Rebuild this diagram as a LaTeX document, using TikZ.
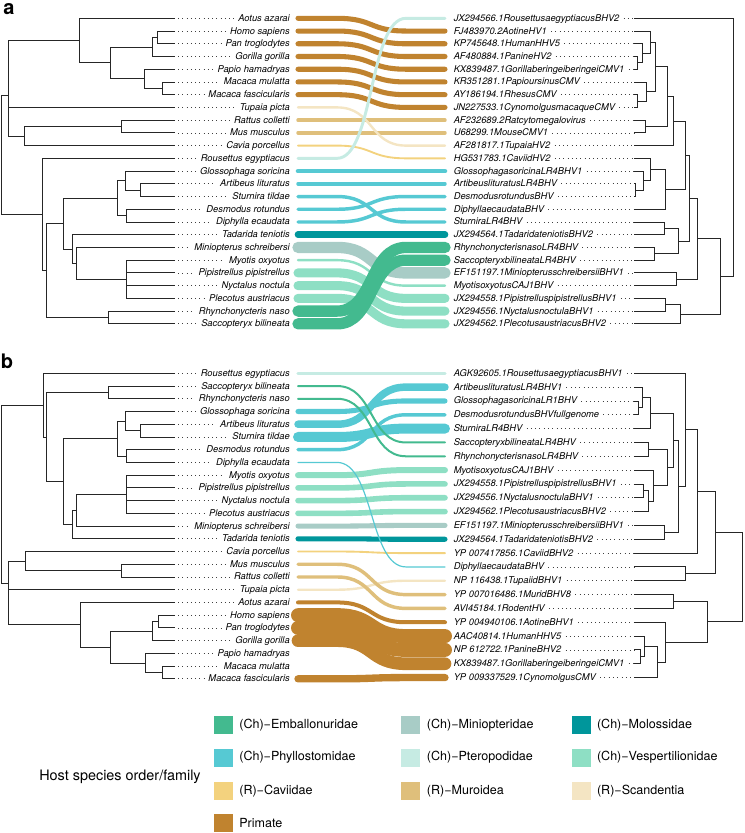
\documentclass[tikz,border=0pt]{standalone}
\usepackage{fontspec}
\setmainfont{TeX Gyre Heros}
\usetikzlibrary{positioning}
\definecolor{emba}{HTML}{43BA8F}
\definecolor{mini}{HTML}{A8CCC6}
\definecolor{molo}{HTML}{00969B}
\definecolor{phyl}{HTML}{56C9D3}
\definecolor{pter}{HTML}{C6EBE3}
\definecolor{vesp}{HTML}{8EDFC4}
\definecolor{cavi}{HTML}{F3D27E}
\definecolor{muro}{HTML}{DFBF7B}
\definecolor{scan}{HTML}{F4E5C3}
\definecolor{prim}{HTML}{C0832F}
\tikzset{
  tree/.style={line width=0.75pt, black!85},
  leader/.style={line width=0.5pt, black!75, dash pattern=on 0.5pt off 2.7pt},
  host/.style={font=\fontsize{7}{8}\selectfont\itshape, anchor=east, inner sep=0pt, text height=6pt, text depth=1.5pt},
  virus/.style={font=\fontsize{7}{8}\selectfont\itshape, anchor=west, inner sep=0pt, text height=6pt, text depth=1.5pt},
  rib/.style={line cap=round},
  swatch/.style={minimum width=14.25pt, minimum height=13.5pt, inner sep=0pt},
  legtext/.style={font=\fontsize{9.4}{10}\selectfont, inner sep=0pt, anchor=west},
  panel/.style={font=\fontsize{15}{15}\selectfont\bfseries, inner sep=0pt}
}
% clade: parent x, child 1 (x,y), child 2 (x,y)
\newcommand{\cl}[5]{\draw[tree] (#2,#3) -| (#1,#5) -- (#4,#5);}
% ribbon: colour, width (pt), left end, right end
\newcommand{\ribbon}[4]{\draw[rib, draw=#1, line width=#2pt] (#3) -- ++(39,0) .. controls +(37,0) and +(-37,0) .. ([xshift=-29.25pt]#4) -- (#4);}
\begin{document}
\begin{tikzpicture}[x=0.75pt, y=-0.75pt]
\useasboundingbox (0,0) rectangle (744,833);

\node[panel, anchor=north west] (pa) at (3,3.5) {a};
\node[panel] (pb) at (7,361) {b};

% ---------- panel a: labels
\foreach \nm [count=\i from 0] in {Aotus azarai, Homo sapiens, Pan troglodytes, Gorilla gorilla,
  Papio hamadryas, Macaca mulatta, Macaca fascicularis, Tupaia picta, Rattus colletti,
  Mus musculus, Cavia porcellus, Rousettus egyptiacus, Glossophaga soricina,
  Artibeus lituratus, Sturnira tildae, Desmodus rotundus, Diphylla ecaudata,
  Tadarida teniotis, Miniopterus schreibersi, Myotis oxyotus, Pipistrellus pipistrellus,
  Nyctalus noctula, Plecotus austriacus, Rhynchonycteris naso, Saccopteryx bilineata}{
  \pgfmathsetmacro\yy{18.3+12.73*\i}
  \node[host] (ha\i) at (290,\yy) {\nm};
  \coordinate (la\i) at (298,\yy);
  \draw[leader] (178,\yy) -- ([xshift=-3pt]ha\i.west);
}
\foreach \nm [count=\i from 0] in {JX294566.1RousettusaegyptiacusBHV2, FJ483970.2AotineHV1,
  KP745648.1HumanHHV5, AF480884.1PanineHV2, KX839487.1GorillaberingeiberingeiCMV1,
  KR351281.1PapioursinusCMV, AY186194.1RhesusCMV, JN227533.1CynomolgusmacaqueCMV,
  AF232689.2Ratcytomegalovirus, U68299.1MouseCMV1, AF281817.1TupaiaHV2,
  HG531783.1CaviidHV2, GlossophagasoricinaLR4BHV1, ArtibeuslituratusLR4BHV,
  DesmodusrotundusBHV, DiphyllaecaudataBHV, SturniraLR4BHV,
  JX294564.1TadaridateniotisBHV2, RhynchonycterisnasoLR4BHV, SaccopteryxbilineataLR4BHV,
  EF151197.1MiniopterusschreibersiiBHV1, MyotisoxyotusCAJ1BHV,
  JX294558.1PipistrelluspipistrellusBHV1, JX294556.1NyctalusnoctulaBHV1,
  JX294562.1PlecotusaustriacusBHV2}{
  \pgfmathsetmacro\yy{18.3+12.73*\i}
  \node[virus] (va\i) at (453.5,\yy) {\nm};
  \coordinate (ra\i) at (445,\yy);
  \draw[leader] ([xshift=3pt]va\i.east) -- (634,\yy);
}

% ---------- panel a: ribbons
\ribbon{prim}{3.8}{la0}{ra1}
\ribbon{prim}{3.8}{la1}{ra2}
\ribbon{prim}{3.8}{la2}{ra3}
\ribbon{prim}{3.8}{la3}{ra4}
\ribbon{prim}{3.8}{la4}{ra5}
\ribbon{prim}{3.8}{la5}{ra6}
\ribbon{prim}{3.8}{la6}{ra7}
\ribbon{muro}{2.6}{la8}{ra8}
\ribbon{muro}{2.6}{la9}{ra9}
\ribbon{scan}{1.8}{la7}{ra10}
\ribbon{cavi}{1.4}{la10}{ra11}
\ribbon{pter}{2.2}{la11}{ra0}
\ribbon{phyl}{3.4}{la12}{ra12}
\ribbon{phyl}{2.6}{la13}{ra13}
\ribbon{phyl}{2.6}{la14}{ra16}
\ribbon{phyl}{2.6}{la15}{ra14}
\ribbon{phyl}{2.6}{la16}{ra15}
\ribbon{molo}{5}{la17}{ra17}
\ribbon{vesp}{6.8}{la20}{ra22}
\ribbon{vesp}{6.8}{la21}{ra23}
\ribbon{vesp}{6.8}{la22}{ra24}
\ribbon{vesp}{1.8}{la19}{ra21}
\ribbon{mini}{8.5}{la18}{ra20}
\ribbon{emba}{8.5}{la23}{ra18}
\ribbon{emba}{8.5}{la24}{ra19}

% ---------- panel a: host tree
\cl{157.7}{175}{31.0}{175}{43.8}
\cl{152.7}{157.7}{37.4}{175}{56.5}
\cl{162.3}{175}{82.0}{175}{94.7}
\cl{144.7}{175}{69.2}{162.3}{88.4}
\cl{110}{152.7}{47.0}{144.7}{78.8}
\cl{79}{175}{18.3}{110}{62.9}
\cl{121.7}{175}{120.1}{175}{132.9}
\cl{24}{121.7}{126.5}{175}{145.6}
\draw[tree] (79,40.6) -| (8,136.1) -- (24,136.1);
\draw[tree] (8,107.4) -- (175,107.4);
\cl{140}{175}{183.8}{175}{196.5}
\cl{125}{175}{171.1}{140}{190.2}
\cl{126.7}{175}{209.3}{175}{222.0}
\cl{117.3}{125}{180.6}{126.7}{215.7}
\draw[tree] (175,260.2) -| (126,298.4) -- (175,298.4);
\draw[tree] (126,272.9) -- (175,272.9) (126,285.6) -- (175,285.6);
\cl{76.7}{175}{247.4}{126}{279.3}
\cl{72.7}{175}{234.7}{76.7}{263.4}
\cl{63.3}{117.3}{198.2}{72.7}{249.0}
\cl{108}{175}{311.1}{175}{323.8}
\cl{46.7}{63.3}{223.6}{108}{317.5}
\cl{42.7}{175}{158.3}{46.7}{270.5}
\cl{1.5}{8}{95}{42.7}{214.4}

% ---------- panel a: virus tree
\cl{637}{634}{56.5}{634}{69.2}
\cl{642}{634}{43.8}{637}{62.9}
\cl{650.3}{634}{31.0}{642}{53.3}
\cl{637}{634}{94.7}{634}{107.4}
\cl{646}{634}{82.0}{637}{101.1}
\cl{655.3}{650.3}{42.2}{646}{91.5}
\cl{645.3}{634}{120.1}{634}{132.9}
\cl{667}{655.3}{66.9}{645.3}{126.5}
\cl{635.3}{634}{183.8}{634}{196.5}
\cl{643.7}{634}{171.1}{635.3}{190.2}
\cl{650.3}{634}{158.3}{643.7}{180.6}
\cl{665.3}{650.3}{169.5}{634}{209.3}
\cl{664.7}{634}{222.0}{634}{234.7}
\cl{654.7}{634}{247.4}{634}{260.2}
\cl{678.7}{664.7}{228.4}{654.7}{253.8}
\cl{676}{634}{272.9}{634}{285.6}
\cl{665.3}{634}{298.4}{634}{311.1}
\cl{680.3}{665.3}{304.8}{634}{323.8}
\cl{673.7}{667}{96.7}{634}{145.6}
\cl{685.3}{673.7}{121.2}{665.3}{189.4}
\cl{689}{685.3}{155.3}{678.7}{241.1}
\cl{697}{689}{198.2}{676}{279.3}
\cl{720.3}{697}{238.8}{680.3}{314.3}
\cl{733.7}{634}{18.3}{720.3}{276.6}

% ---------- panel b: labels
\foreach \nm [count=\i from 0] in {Rousettus egyptiacus, Saccopteryx bilineata, Rhynchonycteris naso,
  Glossophaga soricina, Artibeus lituratus, Sturnira tildae, Desmodus rotundus, Diphylla ecaudata,
  Myotis oxyotus, Pipistrellus pipistrellus, Nyctalus noctula, Plecotus austriacus,
  Miniopterus schreibersi, Tadarida teniotis, Cavia porcellus, Mus musculus, Rattus colletti,
  Tupaia picta, Aotus azarai, Homo sapiens, Pan troglodytes, Gorilla gorilla,
  Papio hamadryas, Macaca mulatta, Macaca fascicularis}{
  \pgfmathsetmacro\yy{373.3+12.73*\i}
  \node[host] (hb\i) at (290,\yy) {\nm};
  \coordinate (lb\i) at (298,\yy);
  \draw[leader] (178,\yy) -- ([xshift=-3pt]hb\i.west);
}
\foreach \nm [count=\i from 0] in {AGK92605.1RousettusaegyptiacusBHV1, ArtibeuslituratusLR4BHV1,
  GlossophagasoricinaLR1BHV, DesmodusrotundusBHVfullgenome, SturniraLR4BHV,
  SaccopteryxbilineataLR4BHV, RhynchonycterisnasoLR4BHV, MyotisoxyotusCAJ1BHV,
  JX294558.1PipistrelluspipistrellusBHV1, JX294556.1NyctalusnoctulaBHV1,
  JX294562.1PlecotusaustriacusBHV2, EF151197.1MiniopterusschreibersiiBHV1,
  JX294564.1TadaridateniotisBHV2, YP 007417856.1CaviidBHV2, DiphyllaecaudataBHV,
  NP 116438.1TupaiidBHV1, YP 007016486.1MuridBHV8, AVI45184.1RodentHV,
  YP 004940106.1AotineBHV1, AAC40814.1HumanHHV5, NP 612722.1PanineBHV2,
  KX839487.1GorillaberingeiberingeiCMV1, YP 009337529.1CynomolgusCMV}{
  \pgfmathsetmacro\yy{373.3+13.83*\i}
  \node[virus] (vb\i) at (453.5,\yy) {\nm};
  \coordinate (rb\i) at (445,\yy);
  \draw[leader] ([xshift=3pt]vb\i.east) -- (634,\yy);
}

% ---------- panel b: ribbons
\ribbon{pter}{2.6}{lb0}{rb0}
\ribbon{phyl}{3.8}{lb3}{rb2}
\ribbon{phyl}{5.6}{lb4}{rb1}
\ribbon{phyl}{2.6}{lb6}{rb3}
\ribbon{phyl}{7.5}{lb5}{rb4}
\ribbon{emba}{1.5}{lb1}{rb5}
\ribbon{emba}{1.5}{lb2}{rb6}
\ribbon{vesp}{4.5}{lb8}{rb7}
\ribbon{vesp}{4.2}{lb9}{rb8}
\ribbon{vesp}{4.2}{lb10}{rb9}
\ribbon{vesp}{4.2}{lb11}{rb10}
\ribbon{mini}{3.8}{lb12}{rb11}
\ribbon{molo}{3.8}{lb13}{rb12}
\ribbon{cavi}{1.4}{lb14}{rb13}
\ribbon{phyl}{0.9}{lb7}{rb14}
\ribbon{scan}{1.8}{lb17}{rb15}
\ribbon{muro}{2.6}{lb15}{rb16}
\ribbon{muro}{2.6}{lb16}{rb17}
\ribbon{prim}{3}{lb18}{rb18}
\ribbon{prim}{10.5}{lb19}{rb19}
\ribbon{prim}{10.5}{lb20}{rb20}
\ribbon{prim}{9.5}{lb21}{rb21}
\ribbon{prim}{5.5}{lb24}{rb22}

% ---------- panel b: host tree
\cl{108}{175}{386.0}{175}{398.8}
\cl{140}{175}{424.2}{175}{437.0}
\cl{125}{175}{411.5}{140}{430.6}
\cl{126.7}{175}{449.7}{175}{462.4}
\cl{117.3}{125}{421.1}{126.7}{456.1}
\draw[tree] (175,475.1) -| (126.7,513.3) -- (175,513.3);
\draw[tree] (126.7,487.9) -- (175,487.9) (126.7,500.6) -- (175,500.6);
\cl{76.7}{126.7}{494.2}{175}{526.1}
\cl{72.7}{76.7}{510.2}{175}{538.8}
\cl{63.3}{117.3}{438.6}{72.7}{524.5}
\cl{46.7}{108}{392.4}{63.3}{481.6}
\cl{43.3}{175}{373.3}{46.7}{437.0}
\cl{121.7}{175}{564.3}{175}{577.0}
\cl{25}{175}{551.5}{121.7}{570.7}
\cl{158.3}{175}{615.2}{175}{627.9}
\cl{152.7}{158.3}{621.6}{175}{640.6}
\cl{162.7}{175}{666.1}{175}{678.8}
\cl{145}{175}{653.4}{162.7}{672.5}
\cl{110}{152.7}{631.1}{145}{663.0}
\cl{80}{175}{602.4}{110}{647.1}
\draw[tree] (25,561.1) -| (8.3,624.8) -- (80,624.8);
\draw[tree] (8.3,589.7) -- (175,589.7);
\cl{1.5}{43.3}{405.2}{8.3}{583}

% ---------- panel b: virus tree
\cl{638.7}{634}{401.0}{634}{414.8}
\cl{642.7}{634}{387.1}{638.7}{407.9}
\cl{650.3}{642.7}{397.5}{634}{428.6}
\cl{648}{634}{442.5}{634}{456.3}
\cl{643.7}{634}{484.0}{634}{497.8}
\cl{648}{643.7}{490.9}{634}{511.6}
\cl{653.7}{634}{470.1}{648}{501.3}
\cl{667}{648}{449.4}{653.7}{485.7}
\cl{673.7}{650.3}{413.1}{667}{467.6}
\cl{664.7}{634}{525.4}{634}{539.3}
\cl{678.7}{673.7}{440.4}{664.7}{532.4}
\cl{685.3}{634}{373.3}{678.7}{486.4}
\cl{697}{685.3}{429.9}{634}{553.1}
\cl{685.3}{634}{566.9}{634}{580.8}
\cl{715.3}{697}{491.5}{685.3}{573.9}
\cl{673.7}{634}{594.6}{634}{608.4}
\cl{640.3}{634}{649.9}{634}{663.7}
\cl{644.7}{634}{636.1}{640.3}{656.8}
\cl{657}{644.7}{646.5}{634}{677.6}
\cl{665.3}{634}{622.3}{657}{662.1}
\cl{707}{673.7}{601.5}{665.3}{642.2}
\cl{742.5}{715.3}{532.7}{707}{621.9}

% ---------- legend
\node[font=\fontsize{10.8}{12}\selectfont, inner sep=0pt] (ltitle) at (120,776.7) {Host species order/family};
\node[swatch, fill=emba] (s1) at (223.3,725) {};
\node[legtext, right=4.5pt of s1] (t1) {(Ch)−Emballonuridae};
\node[swatch, fill=mini] (s2) at (410.9,725) {};
\node[legtext, right=4.5pt of s2] (t2) {(Ch)−Miniopteridae};
\node[swatch, fill=molo] (s3) at (581,725) {};
\node[legtext, right=4.5pt of s3] (t3) {(Ch)−Molossidae};
\node[swatch, fill=phyl] (s4) at (223.3,757.5) {};
\node[legtext, right=4.5pt of s4] (t4) {(Ch)−Phyllostomidae};
\node[swatch, fill=pter] (s5) at (410.9,757.5) {};
\node[legtext, right=4.5pt of s5] (t5) {(Ch)−Pteropodidae};
\node[swatch, fill=vesp] (s6) at (581,757.5) {};
\node[legtext, right=4.5pt of s6] (t6) {(Ch)−Vespertilionidae};
\node[swatch, fill=cavi] (s7) at (223.3,790.8) {};
\node[legtext, right=4.5pt of s7] (t7) {(R)−Caviidae};
\node[swatch, fill=muro] (s8) at (410.9,790.8) {};
\node[legtext, right=4.5pt of s8] (t8) {(R)−Muroidea};
\node[swatch, fill=scan] (s9) at (581,790.8) {};
\node[legtext, right=4.5pt of s9] (t9) {(R)−Scandentia};
\node[swatch, fill=prim] (s10) at (223.3,823.2) {};
\node[legtext, right=4.5pt of s10] (t10) {Primate};
\end{tikzpicture}
\end{document}
